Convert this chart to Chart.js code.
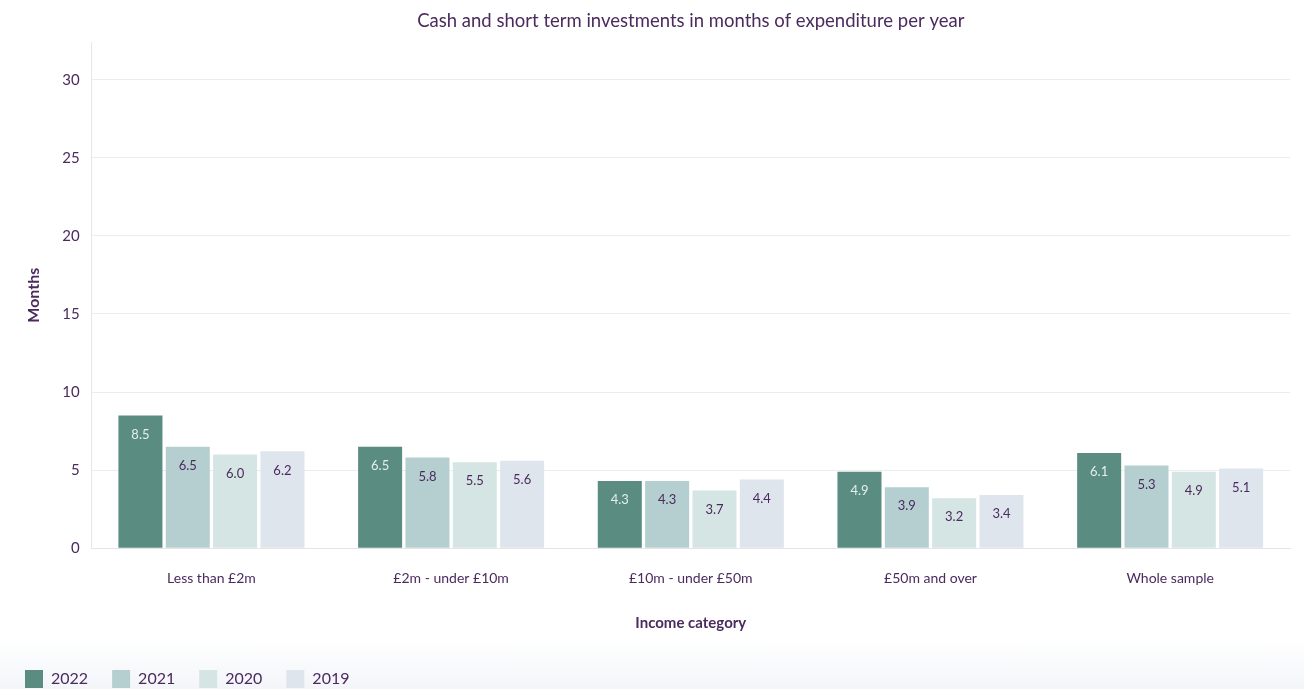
<!DOCTYPE html>
<html>
<head>
<meta charset="utf-8">
<script src="https://cdn.jsdelivr.net/npm/chart.js@4.4.1/dist/chart.umd.min.js"></script>
<style>
  html, body { margin: 0; padding: 0; }
  body {
    width: 1304px; height: 689px; overflow: hidden;
    background: linear-gradient(to bottom, #ffffff 0px, #ffffff 640px, #f3f5f9 689px);
  }
  canvas { display: block; }
</style>
</head>
<body>
<canvas id="grafico" width="1304" height="689"></canvas>
<script>
const categorias = ["Less than £2m", "£2m - under £10m", "£10m - under £50m", "£50m and over", "Whole sample"];
const anos = ["2022", "2021", "2020", "2019"];
const v2022 = [8.5, 6.5, 4.3, 4.9, 6.1];
const v2021 = [6.5, 5.8, 4.3, 3.9, 5.3];
const v2020 = [6.0, 5.5, 3.7, 3.2, 4.9];
const v2019 = [6.2, 5.6, 4.4, 3.4, 5.1];
const yTicks = [0, 5, 10, 15, 20, 25, 30];

const cores = ["#5a8c82", "#b5cfd0", "#d5e5e3", "#dfe5ec"];
const roxo = "#4b2a5e";
const fonte = "Lato, 'Noto Sans', sans-serif";

// values printed just under the top of each bar
const rotulos = {
    id: "rotulos",
    afterDatasetsDraw(chart) {
        const ctx = chart.ctx;
        ctx.save();
        ctx.font = "13px " + fonte;
        ctx.textAlign = "center";
        ctx.textBaseline = "middle";
        chart.data.datasets.forEach((ds, i) => {
            const meta = chart.getDatasetMeta(i);
            ctx.fillStyle = i === 0 ? "#e4efec" : roxo;
            meta.data.forEach((bar, j) => {
                ctx.fillText(ds.data[j].toFixed(1), bar.x, bar.y + 19);
            });
        });
        ctx.restore();
    }
};

const series = [v2022, v2021, v2020, v2019];

new Chart(document.getElementById("grafico"), {
    type: "bar",
    data: {
        labels: categorias,
        datasets: anos.map((a, i) => ({
            label: a,
            data: series[i],
            backgroundColor: cores[i],
            borderWidth: 0,
            barPercentage: 0.93,
            categoryPercentage: 0.79
        }))
    },
    plugins: [rotulos],
    options: {
        responsive: false,
        animation: false,
        devicePixelRatio: 1,
        layout: { padding: { left: 1, right: 14, top: 2, bottom: -9 } },
        plugins: {
            title: {
                display: true,
                text: "Cash and short term investments in months of expenditure per year",
                color: roxo,
                fullSize: false,
                font: { family: fonte, size: 18.5, weight: "normal" },
                padding: { top: 8, bottom: 10 }
            },
            legend: {
                position: "bottom",
                align: "start",
                labels: {
                    color: roxo,
                    boxWidth: 18,
                    boxHeight: 18,
                    padding: 24,
                    font: { family: fonte, size: 16 }
                }
            },
            tooltip: { enabled: false }
        },
        scales: {
            x: {
                grid: { display: false },
                border: { color: "#e3e3ea" },
                ticks: { color: roxo, font: { family: fonte, size: 14 }, padding: 14 },
                title: {
                    display: true,
                    text: "Income category",
                    color: roxo,
                    font: { family: fonte, size: 15, weight: "bold" },
                    padding: { top: 13, bottom: 14 }
                }
            },
            y: {
                min: 0,
                max: 32.4,
                afterBuildTicks(scale) {
                    scale.ticks = yTicks.map(v => ({ value: v }));
                },
                grid: { color: "#ebebf0", drawTicks: false },
                border: { color: "#e6e6ec" },
                ticks: { color: roxo, font: { family: fonte, size: 15 }, padding: 12 },
                title: {
                    display: true,
                    text: "Months",
                    color: roxo,
                    font: { family: fonte, size: 16, weight: "bold" },
                    padding: { top: 23, bottom: 7 }
                }
            }
        }
    }
});
</script>
</body>
</html>
